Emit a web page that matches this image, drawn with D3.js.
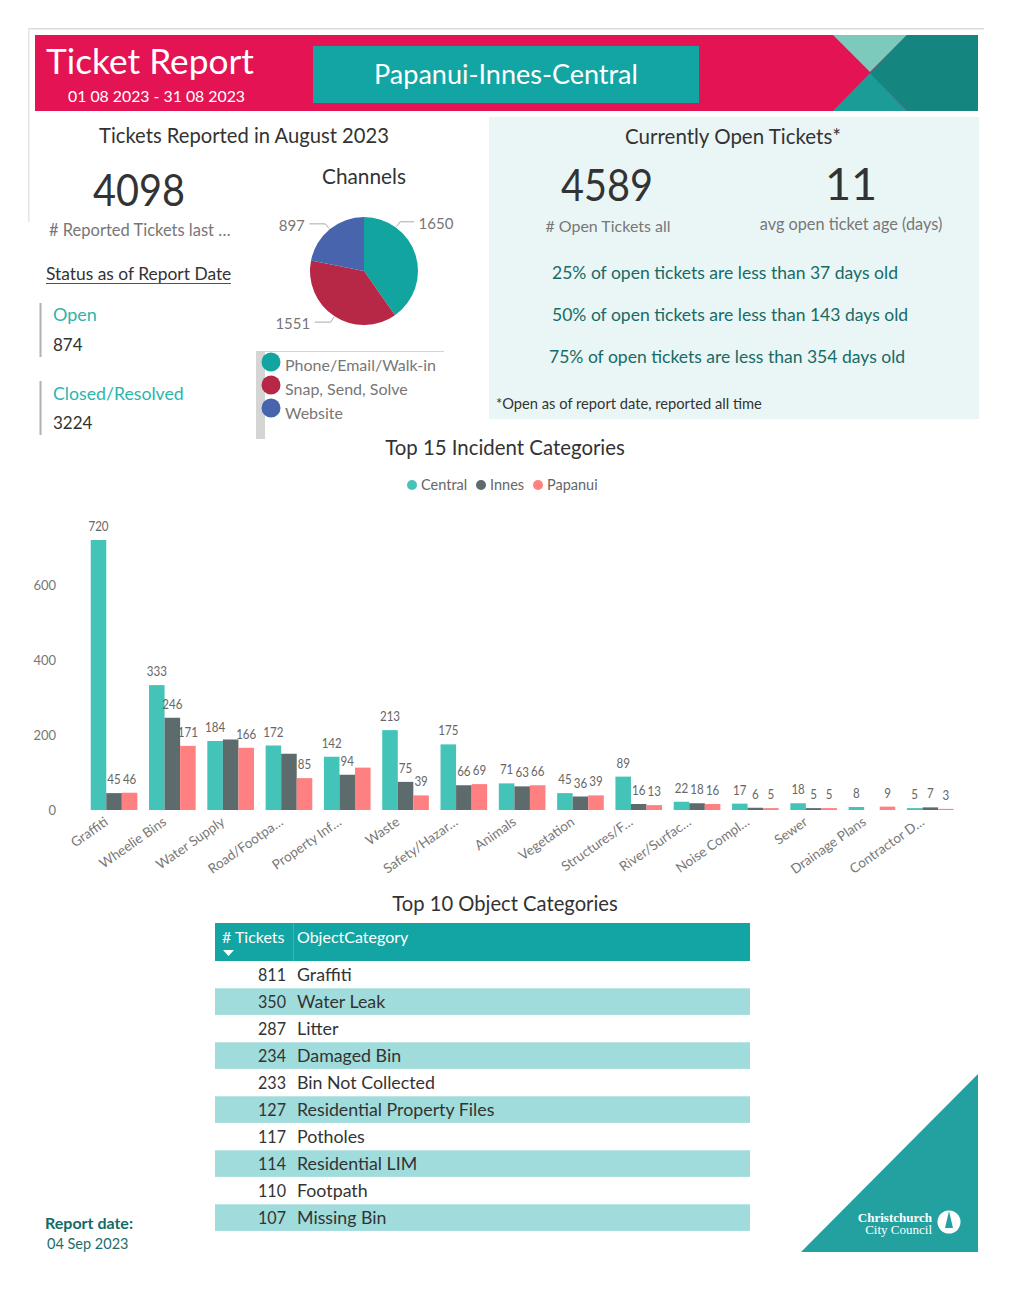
<!DOCTYPE html>
<html>
<head>
<meta charset="utf-8">
<title>Ticket Report</title>
<script src="https://cdn.jsdelivr.net/npm/d3@7"></script>
<style>
  body { margin: 0; background: #fff; }
  text { font-family: Lato, "Noto Sans", sans-serif; }
</style>
</head>
<body>
<div id="chart"></div>
<script>
// Channels pie
const channels = ["Phone/Email/Walk-in", "Snap, Send, Solve", "Website"];
const channelValues = [1650, 1551, 897];
const channelColors = ["#12a5a0", "#b72746", "#4864ac"];

// Top 15 incident categories
const categories = ["Graffiti", "Wheelie Bins", "Water Supply", "Road/Footpa\u2026", "Property Inf\u2026", "Waste",
    "Safety/Hazar\u2026", "Animals", "Vegetation", "Structures/F\u2026", "River/Surfac\u2026", "Noise Compl\u2026",
    "Sewer", "Drainage Plans", "Contractor D\u2026"];
const seriesNames = ["Central", "Innes", "Papanui"];
const seriesColors = ["#44c4b8", "#5d6b6c", "#ff8080"];
const central = [720, 333, 184, 172, 142, 213, 175, 71, 45, 89, 22, 17, 18, 8, 5];
const innes = [45, 246, 188, 150, 94, 75, 66, 63, 36, 16, 18, 6, 5, null, 7];
const papanui = [46, 171, 166, 85, 113, 39, 69, 66, 39, 13, 16, 5, 5, 9, 3];
const yTicks = [0, 200, 400, 600];
// these bars have no data label in the report (the labels collided)
const unlabelled = ["Water Supply|Innes", "Road/Footpa\u2026|Innes", "Property Inf\u2026|Papanui"];

// Top 10 object categories
const objectCounts = [811, 350, 287, 234, 233, 127, 117, 114, 110, 107];
const objectNames = ["Graffiti", "Water Leak", "Litter", "Damaged Bin", "Bin Not Collected",
    "Residential Property Files", "Potholes", "Residential LIM", "Footpath", "Missing Bin"];

const openLines = ["25% of open tickets are less than 37 days old",
    "50% of open tickets are less than 143 days old",
    "75% of open tickets are less than 354 days old"];

const svg = d3.select("#chart").append("svg")
    .attr("width", 1012)
    .attr("height", 1293)
    .style("display", "block");

function label(x, y, str, size, color, anchor) {
    return svg.append("text")
        .attr("x", x)
        .attr("y", y)
        .attr("dy", ".35em")
        .attr("font-size", size)
        .attr("fill", color)
        .attr("text-anchor", anchor || "start")
        .text(str);
}

// Lato digits run wider than the report's font, squeeze them to the reference width
function squeeze(sel, width) {
    return sel.attr("textLength", width).attr("lengthAdjust", "spacingAndGlyphs");
}

function poly(points, color) {
    svg.append("polygon").attr("points", points).attr("fill", color);
}

function rect(x, y, w, h, color) {
    svg.append("rect").attr("x", x).attr("y", y).attr("width", w).attr("height", h).attr("fill", color);
}

// Page frame
rect(28, 28, 956, 1.5, "#dcdcdc");
rect(28, 28, 1.5, 194, "#e6e6e6");

// Header band
rect(35, 35, 943, 76, "#e31354");
poly("833,35 907,35 870,72", "#7ccabb");
poly("907,35 978,35 978,111 907,111 870,73", "#158580");
poly("870,73 907,111 833,111", "#1b9c97");
rect(313, 46, 386, 57, "#13a5a3");
squeeze(label(46, 62, "Ticket Report", 35, "#fff"), 208);
squeeze(label(68, 96, "01 08 2023 - 31 08 2023", 16, "#fff"), 177);
label(506, 75, "Papanui-Innes-Central", 27, "#fff", "middle");

// Left block
label(244, 136, "Tickets Reported in August 2023", 20.2, "#333", "middle");
squeeze(label(139, 190, "4098", 45, "#333", "middle"), 92);
label(49, 230, "# Reported Tickets last \u2026", 16.5, "#777");
label(46, 274, "Status as of Report Date", 17.4, "#333");
rect(46, 283, 185, 1, "#555");
rect(39.5, 303, 2, 54, "#b5b0ab");
label(53, 315, "Open", 18, "#2bb5ae");
label(53, 345.5, "874", 17, "#333");
rect(39.5, 381, 2, 54, "#b5b0ab");
label(53, 393.5, "Closed/Resolved", 17.7, "#2bb5ae");
label(53, 423, "3224", 17, "#333");

// Channels pie
label(364, 177, "Channels", 20.8, "#333", "middle");
const pieX = 364, pieY = 271, pieR = 54;
const pieArcs = d3.pie().sort(null)(channelValues);
const arc = d3.arc().innerRadius(0).outerRadius(pieR);
const pieG = svg.append("g").attr("transform", `translate(${pieX},${pieY})`);
pieG.selectAll("path")
    .data(pieArcs)
    .enter()
    .append("path")
    .attr("d", arc)
    .attr("fill", (d, i) => channelColors[i]);

// Leader lines: the first one sits at half of the slice's mid angle in the report
const leaderFactor = [0.5, 1, 1];
const leaderEnd = [14, -16, -16];
pieArcs.forEach((d, i) => {
    const a = (d.startAngle + d.endAngle) / 2 * leaderFactor[i];
    const x0 = Math.sin(a) * (pieR + 1), y0 = -Math.cos(a) * (pieR + 1);
    const x1 = Math.sin(a) * (pieR + 7), y1 = -Math.cos(a) * (pieR + 7);
    pieG.append("path")
        .attr("d", `M${x0},${y0}L${x1},${y1}h${leaderEnd[i]}`)
        .attr("fill", "none")
        .attr("stroke", "#aaa");
    const side = leaderEnd[i] > 0 ? 1 : -1;
    pieG.append("text")
        .attr("x", x1 + leaderEnd[i] + side * 4.5)
        .attr("y", y1 + 2)
        .attr("dy", ".35em")
        .attr("font-size", 15)
        .attr("fill", "#777")
        .attr("text-anchor", side > 0 ? "start" : "end")
        .text(channelValues[i]);
});

// Channels legend
rect(256, 351, 9, 88, "#d5d5d5");
rect(265, 351, 179, 1, "#d5d5d5");
const legendY = d3.scalePoint().domain(channels).range([362, 408]);
channels.forEach((c, i) => {
    svg.append("circle").attr("cx", 271).attr("cy", legendY(c)).attr("r", 9.5).attr("fill", channelColors[i]);
    label(285, legendY(c) + 3 + i * 1.2, c, 16, "#777");
});

// Currently open panel
rect(489, 117, 490, 302, "#eaf6f6");
label(733, 137, "Currently Open Tickets*", 20.5, "#333", "middle");
squeeze(label(607, 185, "4589", 45, "#333", "middle"), 92);
label(851, 184, "11", 45, "#333", "middle");
label(608, 226, "# Open Tickets all", 16, "#777", "middle");
label(851, 224, "avg open ticket age (days)", 16.3, "#777", "middle");
openLines.forEach((line, i) => {
    label(i === 2 ? 549 : 552, 272.5 + i * 42, line, 17.55, "#176b66");
});
label(496, 404, "*Open as of report date, reported all time", 14.7, "#333");

// Incident bars
label(505, 448, "Top 15 Incident Categories", 20.4, "#333", "middle");

const legendX = [412, 481, 538];
seriesNames.forEach((s, i) => {
    svg.append("circle").attr("cx", legendX[i]).attr("cy", 485).attr("r", 5).attr("fill", seriesColors[i]);
    label(legendX[i] + 9, 485, s, 14.5, "#666");
});

const x0 = d3.scaleBand().domain(categories).range([84.9, 959.4]).paddingInner(0.2).paddingOuter(0.1);
const x1 = d3.scaleBand().domain(seriesNames).range([0, x0.bandwidth()]);
const y = d3.scaleLinear().domain([0, 600]).range([810, 585]);

const yAxis = svg.append("g")
    .attr("transform", "translate(60,0.5)")
    .call(d3.axisLeft(y).tickValues(yTicks).tickSize(0).tickPadding(4));
yAxis.select(".domain").remove();
yAxis.selectAll("text").attr("font-size", 13).attr("fill", "#777").style("font-family", "Lato, sans-serif");

const allSeries = [central, innes, papanui];
const groups = svg.selectAll(".series")
    .data(seriesNames)
    .enter()
    .append("g")
    .attr("class", "series");

groups.each(function(name, s) {
    const rows = categories
        .map((c, i) => ({ cat: c, val: allSeries[s][i] }))
        .filter(d => d.val !== null);
    const g = d3.select(this);
    g.selectAll("rect")
        .data(rows)
        .enter()
        .append("rect")
        .attr("x", d => x0(d.cat) + x1(name))
        .attr("y", d => y(d.val))
        .attr("width", x1.bandwidth())
        .attr("height", d => y(0) - y(d.val))
        .attr("fill", seriesColors[s]);
    g.selectAll("text")
        .data(rows.filter(d => !unlabelled.includes(d.cat + "|" + name)))
        .enter()
        .append("text")
        .attr("x", d => x0(d.cat) + x1(name) + x1.bandwidth() / 2)
        .attr("y", d => y(d.val) - 9)
        .attr("text-anchor", "middle")
        .attr("font-size", 13)
        .attr("fill", "#666")
        .attr("textLength", d => String(d.val).length * 6.7)
        .attr("lengthAdjust", "spacingAndGlyphs")
        .text(d => d.val);
});

// Category labels, rotated
svg.selectAll(".cat")
    .data(categories)
    .enter()
    .append("text")
    .attr("class", "cat")
    .attr("transform", d => `translate(${x0(d) + x0.bandwidth() / 2 - 5},824) rotate(-35)`)
    .attr("text-anchor", "end")
    .attr("font-size", 13.5)
    .attr("fill", "#777")
    .text(d => d);

// Object table
label(505, 904, "Top 10 Object Categories", 20.2, "#333", "middle");
rect(215, 923, 535, 38, "#13a5a3");
rect(293, 923, 1, 38, "#3ab5b3");
label(222, 937, "# Tickets", 16, "#fff");
label(297, 937, "ObjectCategory", 16, "#fff");
poly("223,950 234,950 228.5,956", "#fff");

const rowY = d3.scaleBand().domain(objectNames).range([961.3, 1231.3]);
objectNames.forEach((name, i) => {
    if (i % 2 === 1) rect(215, rowY(name), 535, rowY.bandwidth() - 0.4, "#a0dcdb");
    squeeze(label(286, rowY(name) + rowY.bandwidth() / 2, objectCounts[i], 18, "#333", "end"), 28);
    label(297, rowY(name) + rowY.bandwidth() / 2, name, 17.8, "#333");
});

// Report date
label(45, 1223, "Report date:", 16, "#136b66").attr("font-weight", "bold");
label(47, 1244, "04 Sep 2023", 14.5, "#1c6e6a");

// Logo corner
poly("801,1252 978,1252 978,1074", "#23a1a0");
label(932, 1217, "Christchurch", 13, "#fff", "end").style("font-family", "'Liberation Serif', serif").attr("font-weight", "bold");
label(932, 1229.5, "City Council", 13, "#fff", "end").style("font-family", "'Liberation Serif', serif");
svg.append("circle").attr("cx", 949).attr("cy", 1222).attr("r", 11.5).attr("fill", "#fff");
poly("949,1211 953,1228 945,1228", "#23a1a0");
</script>
</body>
</html>
